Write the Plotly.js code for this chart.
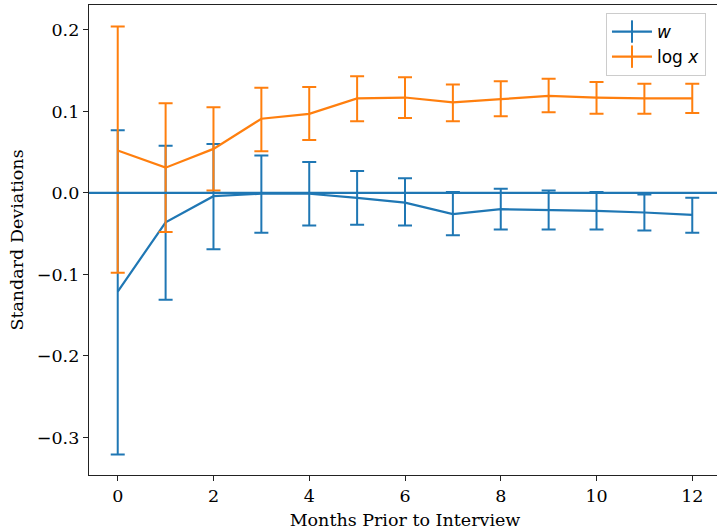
<!DOCTYPE html>
<html>
<head>
<meta charset="utf-8">
<script src="https://cdn.plot.ly/plotly-3.0.1.min.js"></script>
<style>
html,body{margin:0;padding:0;overflow:hidden;background:#fff;}
#chart{width:717px;height:531px;}
</style>
</head>
<body>
<div id="chart"></div>
<script>
const months = [0,1,2,3,4,5,6,7,8,9,10,11,12];

const wValue = [-0.121,-0.036,-0.004,-0.001,-0.001,-0.006,-0.012,-0.026,-0.020,-0.021,-0.022,-0.024,-0.027];
const wUpper = [0.077,0.058,0.060,0.046,0.038,0.027,0.018,0.001,0.005,0.003,0.001,-0.002,-0.006];
const wLower = [-0.321,-0.131,-0.069,-0.049,-0.040,-0.039,-0.040,-0.052,-0.045,-0.045,-0.045,-0.046,-0.049];

const logxValue = [0.052,0.031,0.054,0.091,0.097,0.116,0.117,0.111,0.115,0.119,0.117,0.116,0.116];
const logxUpper = [0.204,0.110,0.105,0.129,0.130,0.143,0.142,0.133,0.137,0.140,0.136,0.134,0.134];
const logxLower = [-0.098,-0.048,0.003,0.051,0.065,0.088,0.092,0.088,0.094,0.099,0.097,0.097,0.098];

const blue = '#1f77b4', orange = '#ff7f0e';

function errTrace(vals, up, lo, color, name){
  return {
    x: months, y: vals, type: 'scatter', mode: 'lines', name: name,
    showlegend: false,
    line: {color: color, width: 2.2},
    error_y: {
      type: 'data', symmetric: false,
      array: up.map((u,i)=>u-vals[i]),
      arrayminus: vals.map((v,i)=>v-lo[i]),
      color: color, thickness: 2, width: 7
    }
  };
}
function legendTrace(color, name){
  return {
    x: [null], y: [null], type: 'scatter', mode: 'lines+markers', name: name,
    line: {color: color, width: 2.2},
    marker: {symbol: 'line-ns-open', size: 16, color: color, line: {color: color, width: 2}}
  };
}

const data = [
  errTrace(wValue, wUpper, wLower, blue, 'w'),
  errTrace(logxValue, logxUpper, logxLower, orange, 'log x'),
  legendTrace(blue, '<i>w</i>'),
  legendTrace(orange, 'log <i>x</i>')
];

const axisFont = {family: 'DejaVu Serif', size: 17.5, color: '#000'};
const layout = {
  width: 721, height: 531,
  margin: {l: 89, r: 0, t: 5, b: 56},
  paper_bgcolor: '#fff', plot_bgcolor: '#fff',
  font: axisFont,
  xaxis: {
    range: [-0.6, 12.6], tickvals: [0,2,4,6,8,10,12], ticktext: ['0','2','4','6','8','10','12'],
    showgrid: false, zeroline: false, showline: true, mirror: true, linecolor: '#222', linewidth: 1.2,
    ticks: 'outside', ticklen: 5, tickcolor: '#222', tickfont: axisFont,
    title: {text: 'Months Prior to Interview', font: axisFont, standoff: 8}
  },
  yaxis: {
    range: [-0.346, 0.2305], tickvals: [-0.3,-0.2,-0.1,0,0.1,0.2], tickformat: '.1f',
    showgrid: false, zeroline: false, showline: true, mirror: true, linecolor: '#222', linewidth: 1.2,
    ticks: 'outside', ticklen: 5, tickcolor: '#222', tickfont: axisFont,
    title: {text: 'Standard Deviations', font: axisFont, standoff: 8}
  },
  shapes: [{
    type: 'line', xref: 'paper', yref: 'y', x0: 0, x1: 1, y0: 0, y1: 0,
    line: {color: blue, width: 2.2}, layer: 'above'
  }],
  legend: {
    x: 0.818, y: 0.983, xanchor: 'left', yanchor: 'top',
    bgcolor: 'rgba(255,255,255,0.85)', bordercolor: '#ccc', borderwidth: 1,
    font: {family: 'DejaVu Sans', size: 17, color: '#000'},
    itemwidth: 40, tracegroupgap: 4
  }
};

Plotly.newPlot('chart', data, layout, {displayModeBar: false, staticPlot: true});
</script>
</body>
</html>
